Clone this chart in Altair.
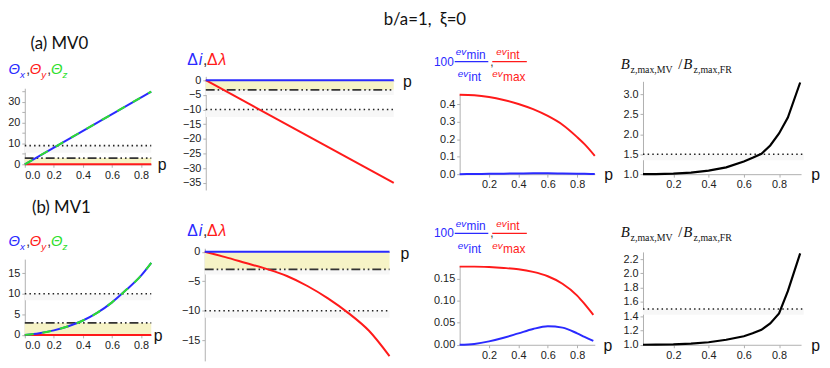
import altair as alt
import pandas as pd

# ---------------- data ----------------
# (a) MV0
p_theta_a = [0.0, 0.87]
theta_xz_a = [0.0, 35.0]
theta_y_a = [0.0, 0.0]

p_delta_a = [0.0, 0.9]
delta_i_a = [0.0, 0.0]
delta_lambda_a = [0.0, -35.0]

p_ev_a = [0.0, 0.1, 0.2, 0.3, 0.4, 0.5, 0.6, 0.7, 0.8, 0.85, 0.92]
ev_min_int_a = [0.0, 0.001, 0.002, 0.003, 0.004, 0.005, 0.005, 0.004, 0.003, 0.002, 0.001]
ev_int_max_a = [0.455, 0.452, 0.442, 0.425, 0.402, 0.372, 0.333, 0.283, 0.212, 0.172, 0.105]

p_bz_a = [0.0275, 0.1, 0.2, 0.3, 0.4, 0.5, 0.6, 0.65, 0.7, 0.75, 0.8, 0.85, 0.92]
bz_ratio_a = [1.0, 1.003, 1.015, 1.04, 1.09, 1.17, 1.32, 1.41, 1.51, 1.72, 2.02, 2.42, 3.3]

# (b) MV1
p_theta_b = [0.0, 0.1, 0.2, 0.3, 0.4, 0.5, 0.6, 0.7, 0.8, 0.87]
theta_xz_b = [0.0, 0.4, 1.1, 2.1, 3.5, 5.4, 7.9, 11.0, 14.4, 17.5]
theta_y_b = [0.0] * len(p_theta_b)

p_delta_b = [0.0, 0.1, 0.2, 0.3, 0.4, 0.5, 0.6, 0.7, 0.8, 0.9]
delta_i_b = [0.0] * len(p_delta_b)
delta_lambda_b = [0.0, -0.9, -1.9, -2.9, -4.1, -5.8, -7.9, -10.4, -13.4, -17.7]

p_ev_b = [0.0, 0.1, 0.2, 0.3, 0.4, 0.5, 0.6, 0.7, 0.8, 0.85, 0.91]
ev_min_int_b = [0.0, 0.002, 0.0077, 0.016, 0.026, 0.036, 0.042, 0.039, 0.026, 0.018, 0.009]
ev_int_max_b = [0.178, 0.178, 0.177, 0.175, 0.172, 0.166, 0.156, 0.139, 0.112, 0.093, 0.068]

p_bz_b = [0.0275, 0.1, 0.2, 0.3, 0.4, 0.5, 0.6, 0.65, 0.7, 0.75, 0.8, 0.85, 0.92]
bz_ratio_b = [1.0, 1.001, 1.005, 1.015, 1.035, 1.07, 1.12, 1.16, 1.21, 1.3, 1.44, 1.75, 2.28]

# reference levels
theta_band_a = 3.0
theta_dotted_a = 9.0
theta_band_b = 2.9
theta_dotted_b = 10.0
delta_band_a = -3.3
delta_band_b = -3.0
delta_dotted = -10.0
bz_dotted = 1.5

# ---------------- style ----------------
BLUE = "#2a2aff"
RED = "#ff1a1a"
GREEN = "#2ee02e"
YELLOW = "#f6f3c6"
SHADE = "#f7f7f7"
DARK = "#333333"
SANS = "Liberation Sans"
SERIF = "Liberation Serif"
ONE = pd.DataFrame({"k": [0]})
W, H = 205.5, 180.0          # grid cell size
DOT = [1.5, 3.2]
DASHDOT = [9, 3, 1.6, 3, 1.6, 3]


def df(p, v):
    return pd.DataFrame({"p": p, "v": v})


def T(s, x, y, size=12, color="#222", style="normal", font=SANS,
      align="left", baseline="alphabetic"):
    return ("text", s, x, y, size, color, style, font, align, baseline)


def R(x1, x2, y, color):
    return ("rule", x1, x2, y, color)


def panel(col, row, xdom, ydom, xpix, ypix, xaxis_y, xvals, yvals, xfmt, yfmt,
          layers_fn, decor, anchor=False):
    ox = 8 + col * W
    oy = 8 + row * H
    X = alt.X("p:Q",
              scale=alt.Scale(domain=xdom, range=[xpix[0] - ox, xpix[1] - ox],
                              nice=False, zero=False),
              axis=alt.Axis(values=xvals, format=xfmt, title=None,
                            offset=(xaxis_y - oy) - H))
    Y = alt.Y("v:Q",
              scale=alt.Scale(domain=ydom, range=[ypix[0] - oy, ypix[1] - oy],
                              nice=False, zero=False),
              axis=alt.Axis(values=yvals, format=yfmt, title=None,
                            offset=-(xpix[0] - ox)))
    layers = layers_fn(X, Y)
    for d in decor:
        if d[0] == "text":
            _, s, x, y, size, color, style, font, align, baseline = d
            layers.append(alt.Chart(ONE).mark_text(
                text=s, x=x - ox, y=y - oy, fontSize=size, color=color,
                fontStyle=style, font=font, align=align, baseline=baseline))
        else:
            _, x1, x2, y, color = d
            layers.append(alt.Chart(ONE).mark_rule(color=color, strokeWidth=1.2).encode(
                x=alt.value(x1 - ox), x2=alt.value(x2 - ox), y=alt.value(y - oy)))
    if anchor:
        layers.append(alt.Chart(ONE).mark_point(x=-6, y=-6, size=1, opacity=0))
    return alt.layer(*layers).properties(width=W, height=H)


def line(data, X, Y, color, width=2.0, dash=None, smooth=False):
    kw = dict(color=color, strokeWidth=width)
    if dash:
        kw["strokeDash"] = dash
    if smooth:
        kw["interpolate"] = "monotone"
    return alt.Chart(data).mark_line(**kw).encode(x=X, y=Y)


def hrule(p0, p1, level, X, Y, color, dash, width=1.6):
    d = pd.DataFrame({"p": [p0], "p2": [p1], "v": [level]})
    return alt.Chart(d).mark_rule(color=color, strokeDash=dash, strokeWidth=width).encode(
        x=X, x2="p2:Q", y=Y)


def band(p0, p1, lo, hi, X, Y, color, opacity=1.0):
    d = pd.DataFrame({"p": [p0], "p2": [p1], "v": [lo], "v2": [hi]})
    return alt.Chart(d).mark_rect(color=color, opacity=opacity).encode(
        x=X, x2="p2:Q", y=Y, y2="v2:Q")


# ---------------- headings ----------------
def theta_heading(b):
    s = b + 3.5
    x0 = 8.5
    return [
        T("Θ", x0, b, 15, BLUE, "italic"), T("x", x0 + 11.7, s, 10, BLUE, "italic"),
        T(",", x0 + 18, b, 14, DARK),
        T("Θ", x0 + 21.5, b, 15, RED, "italic"), T("y", x0 + 33.2, s, 10, RED, "italic"),
        T(",", x0 + 39.2, b, 14, DARK),
        T("Θ", x0 + 43, b, 15, GREEN, "italic"), T("z", x0 + 54.7, s, 10, GREEN, "italic"),
    ]


def delta_heading(b):
    return [
        T("Δ", 189, b, 16, BLUE), T("i", 200.7, b, 16, BLUE, "italic"),
        T(",", 205, b, 16, DARK),
        T("Δ", 209, b, 16, RED), T("λ", 220.7, b, 16, RED, "italic"),
    ]


def ev_heading(top):
    L = 464.2
    return [
        T("100", L - 26, top - 29, 12, BLUE),
        T("ev", L - 4, top - 40, 10, BLUE, "italic"), T("min", L + 7, top - 36, 12, BLUE),
        R(L - 5, L + 29, top - 33, BLUE),
        T("ev", L - 2, top - 17, 10, BLUE, "italic"), T("int", L + 9, top - 13, 12, BLUE),
        T(",", L + 31, top - 29, 12, DARK),
        T("ev", L + 37, top - 40, 10, RED, "italic"), T("int", L + 48, top - 36, 12, RED),
        R(L + 33, L + 68, top - 33, RED),
        T("ev", L + 33, top - 17, 10, RED, "italic"), T("max", L + 44, top - 13, 12, RED),
    ]


def bz_heading(b):
    return [
        T("B", 626.7, b, 15, "#111", "italic", SERIF),
        T("z,max,MV", 636.7, b + 3.5, 10, "#111", "normal", SERIF),
        T("/", 685, b, 15, "#111", "normal", SERIF),
        T("B", 690, b, 15, "#111", "italic", SERIF),
        T("z,max,FR", 700.5, b + 3.5, 10, "#111", "normal", SERIF),
    ]


def P(x, y):
    return T("p", x, y, 16, "#111", align="center", baseline="middle")


# ---------------- panels ----------------
def theta_layers(p, xz, yv, bandtop, dotted, shade, smooth):
    def f(X, Y):
        return [
            band(0, 0.87, dotted - shade, dotted, X, Y, SHADE),
            band(0, 0.87, 0, bandtop, X, Y, YELLOW),
            hrule(0, 0.87, bandtop, X, Y, DARK, DASHDOT, 1.8),
            hrule(0, 0.87, dotted, X, Y, "#222", DOT),
            line(df(p, yv), X, Y, RED),
            line(df(p, xz), X, Y, BLUE, smooth=smooth),
            line(df(p, xz), X, Y, GREEN, dash=[9, 9], smooth=smooth),
        ]
    return f


def delta_layers(p, di, dl, bandlow, shade, smooth):
    def f(X, Y):
        return [
            band(0, 0.9, delta_dotted - shade, delta_dotted, X, Y, SHADE),
            band(0, 0.9, bandlow - shade * 0.7, bandlow, X, Y, SHADE),
            band(0, 0.9, bandlow, 0, X, Y, YELLOW),
            hrule(0, 0.9, bandlow, X, Y, DARK, DASHDOT, 1.8),
            hrule(0, 0.9, delta_dotted, X, Y, "#222", DOT),
            line(df(p, dl), X, Y, RED, smooth=smooth),
            line(df(p, di), X, Y, BLUE),
        ]
    return f


def ev_layers(p, mi, im):
    def f(X, Y):
        return [line(df(p, im), X, Y, RED, smooth=True),
                line(df(p, mi), X, Y, BLUE, smooth=True)]
    return f


def bz_layers(p, r, shade):
    def f(X, Y):
        return [band(0.0275, 0.94, bz_dotted - shade, bz_dotted, X, Y, SHADE),
                hrule(0.0275, 0.94, bz_dotted, X, Y, "#222", DOT),
                line(df(p, r), X, Y, "#000000", 2.2)]
    return f


XT1 = [0, 0.2, 0.4, 0.6, 0.8]
XT = [0.2, 0.4, 0.6, 0.8]
TITLE = "b/a=1,\u00a0 ξ=0"

t_a = panel(0, 0, [0, 0.87], [0, 36.6], (25, 153), (164, 87), 164, XT1,
            list(range(0, 36, 5)), ".1f", "d",
            theta_layers(p_theta_a, theta_xz_a, theta_y_a, theta_band_a, theta_dotted_a, 3.5, False),
            theta_heading(73) + [P(164, 165),
                                 T("(a) MV0", 60, 47, 17, "#111", font="Lato", align="center")],
            anchor=True)
d_a = panel(1, 0, [0, 0.9], [-37.4, 1.3], (207.7, 398), (190, 75), 79.3, XT,
            list(range(-35, 1, 5)), ".1f", "d",
            delta_layers(p_delta_a, delta_i_a, delta_lambda_a, delta_band_a, 2.5, False),
            delta_heading(63) + [P(411.7, 80.7)])
e_a = panel(2, 0, [0, 0.92], [0, 0.458], (464.2, 601), (174, 93), 174, XT,
            [0, 0.1, 0.2, 0.3, 0.4], ".1f", ".1f",
            ev_layers(p_ev_a, ev_min_int_a, ev_int_max_a),
            ev_heading(93) + [P(615, 175),
                              T(TITLE, 429, 23, 17, "#111", font="Lato", align="center")])
b_a = panel(3, 0, [0.0275, 0.925], [1.0, 3.33], (649.3, 809.3), (174, 80), 174, XT,
            [1.0, 1.5, 2.0, 2.5, 3.0], ".1f", ".1f",
            bz_layers(p_bz_a, bz_ratio_a, 0.15), bz_heading(68) + [P(824, 175)])

t_b = panel(0, 1, [0, 0.87], [0, 18.4], (25, 153), (336.7, 260), 336.7, XT1,
            [0, 5, 10, 15], ".1f", "d",
            theta_layers(p_theta_b, theta_xz_b, theta_y_b, theta_band_b, theta_dotted_b, 1.6, True),
            theta_heading(247) + [P(160, 338),
                                  T("(b) MV1", 62, 213, 17, "#111", font="Lato", align="center")])
d_b = panel(1, 1, [0, 0.9], [-18.5, 0.6], (206.7, 393.7), (363, 249), 252.7, XT,
            [-15, -10, -5, 0], ".1f", "d",
            delta_layers(p_delta_b, delta_i_b, delta_lambda_b, delta_band_b, 1.2, True),
            delta_heading(236.7) + [P(409.3, 255)])
e_b = panel(2, 1, [0, 0.92], [0, 0.18], (464.2, 601), (346.7, 266.7), 346.7, XT,
            [0, 0.05, 0.1, 0.15], ".1f", ".2f",
            ev_layers(p_ev_b, ev_min_int_b, ev_int_max_b),
            ev_heading(267) + [P(614.3, 347.7)])
b_b = panel(3, 1, [0.0275, 0.925], [1.0, 2.3], (649.3, 809.3), (346.7, 252.7), 346.7, XT,
            [1.0, 1.2, 1.4, 1.6, 1.8, 2.0, 2.2], ".1f", ".1f",
            bz_layers(p_bz_b, bz_ratio_b, 0.08), bz_heading(238) + [P(824, 348.3)])

chart = alt.concat(t_a, d_a, e_a, b_a, t_b, d_b, e_b, b_b, columns=4, spacing=0,
                   bounds="flush").properties(
    padding={"left": -7, "top": -7, "right": 0, "bottom": 0}
).configure_view(stroke=None).configure_axis(
    grid=False, labelFont=SANS, labelFontSize=11, labelColor="#222",
    domainColor="#b0b0b0", tickColor="#b0b0b0", tickSize=3, labelPadding=2,
)

chart.save("out.html", embed_options={"renderer": "svg", "actions": False})
